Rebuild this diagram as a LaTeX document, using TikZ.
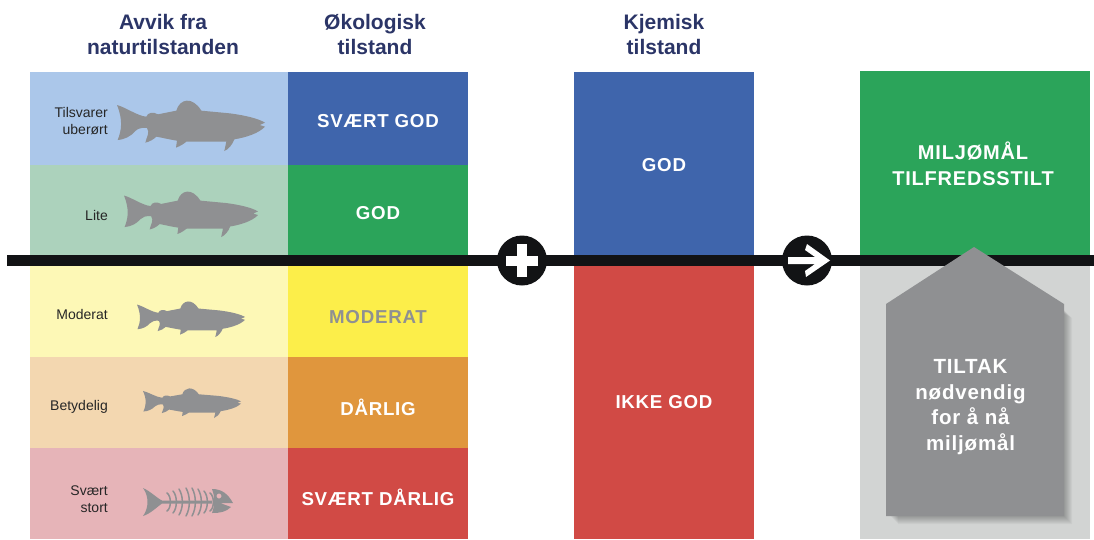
\documentclass[tikz,border=0pt]{standalone}
\usepackage{fontspec}
\setmainfont{Liberation Sans}
\newfontfamily\spc[LetterSpace=4]{Liberation Sans}
\definecolor{navy}{HTML}{2B3567}
\definecolor{cblue}{HTML}{3F65AC}
\definecolor{cgreen}{HTML}{2BA45A}
\definecolor{cyellow}{HTML}{FCEE4A}
\definecolor{corange}{HTML}{E0963D}
\definecolor{cred}{HTML}{D14A45}
\definecolor{lblue}{HTML}{ABC7EA}
\definecolor{lgreen}{HTML}{ACD2BC}
\definecolor{lyellow}{HTML}{FDF8B6}
\definecolor{lorange}{HTML}{F3D7B0}
\definecolor{lred}{HTML}{E6B4B8}
\definecolor{fishgrey}{HTML}{8F9092}
\definecolor{pale}{HTML}{D2D4D3}
\definecolor{ink}{HTML}{121315}
\newcommand{\fishpath}{
  (0,15) .. controls (26,22) and (62,48) .. (88,50)
  .. controls (92,38) and (108,34) .. (123,43)
  -- (178,32) .. controls (188,-4) and (226,-12) .. (253,32)
  -- (338,40) .. controls (385,46) and (425,56) .. (444,68)
  -- (428,75) -- (444,80)
  .. controls (425,100) and (388,112) .. (352,118)
  .. controls (345,135) and (335,148) .. (322,153)
  -- (328,125) -- (208,125) .. controls (200,132) and (190,138) .. (177,143)
  -- (180,122) .. controls (155,118) and (135,113) .. (118,110)
  .. controls (110,118) and (98,125) .. (85,128)
  .. controls (88,112) and (100,98) .. (90,84)
  .. controls (72,82) and (62,86) .. (54,94)
  .. controls (42,108) and (25,118) .. (2,120)
  .. controls (14,90) and (18,60) .. (0,15) -- cycle}
\tikzset{
  title/.style={font=\fontsize{21}{25}\selectfont\bfseries,text=navy,align=center},
  lab/.style={font=\fontsize{14}{17}\selectfont,text=black!85,align=right,anchor=east,inner sep=0pt},
  big/.style={font=\fontsize{18.7}{26}\selectfont\spc\bfseries,text=white,align=center},
  opcircle/.style={circle,fill=ink,minimum size=50pt,inner sep=0pt},
}
\begin{document}
\begin{tikzpicture}[x=1pt,y=-1pt]
\useasboundingbox (0,0) rectangle (1094,539);
% left pale bands
\fill[lblue] (30,72) rectangle (288,165);
\fill[lgreen] (30,165) rectangle (288,256);
\fill[lyellow] (30,266) rectangle (288,357);
\fill[lorange] (30,357) rectangle (288,448);
\fill[lred] (30,448) rectangle (288,539);
% ecological column
\fill[cblue] (288,72) rectangle (468,165);
\fill[cgreen] (288,165) rectangle (468,256);
\fill[cyellow] (288,266) rectangle (468,357);
\fill[corange] (288,357) rectangle (468,448);
\fill[cred] (288,448) rectangle (468,539);
% chemical column
\fill[cblue] (574,72) rectangle (754,256);
\fill[cred] (574,266) rectangle (754,539);
% goal column
\fill[cgreen] (860,71) rectangle (1090,256);
\fill[pale] (860,266) rectangle (1090,539);
% fish
\foreach \fx/\fy/\fw/\fh in {117/100/148/51,124/191/134/46,137/301/108/36,143/388/98/30}{
  \begin{scope}[shift={(\fx,\fy)},xscale=\fw/444,yscale=\fh/153]
    \fill[fishgrey] \fishpath;
  \end{scope}
}
% skeleton
\begin{scope}[fishgrey]
  \fill (143,488) .. controls (150,491) and (157,498) .. (162,500.5) -- (212,500.5) -- (212,503.5) -- (162,503.5)
    .. controls (157,507) and (150,514) .. (143,516) .. controls (149,508) and (149,496) .. (143,488) -- cycle;
  \foreach \rx/\rt/\rb in {167/493/511,173/491/513,179/489/515,186/488/516,192/488/516,198/489/515,204/491/513,210/493/511}{
    \draw[line width=1.5pt,line cap=round] (\rx,\rt) .. controls (\rx+4.5,496) and (\rx+4.5,508) .. (\rx,\rb);
  }
  \fill[even odd rule] (212,489) .. controls (222,489) and (228,494) .. (233,503)
    -- (220,503) -- (231,507) .. controls (226,512) and (220,513) .. (212,513) .. controls (215,505) and (215,497) .. (212,489) -- cycle
    (219,496) circle[radius=2.6];
\end{scope}
% axis line and operators
\coordinate (lineL) at (7,260.5);
\coordinate (lineR) at (1094,260.5);
\draw[ink,line width=10.5pt] (lineL) -- (lineR);
\node[opcircle] (plus) at (522,260.5) {};
\node[opcircle] (arrow) at (807,260.5) {};
\fill[white] (517,244) rectangle (527,277);
\fill[white] (506,255.5) rectangle (538,266);
\fill[white] (788,257) -- (815,257) -- (805,250) -- (807,244) -- (830,260.5) -- (806,277) -- (805,271) -- (815,264) -- (788,264) -- cycle;
% house with soft shadow
\foreach \o in {12,11,...,1}{
  \fill[black,opacity=0.035] (886+\o,306+\o) -- (974,252+\o) -- (1060+\o,306+\o) -- (1060+\o,512+\o) -- (886+\o,512+\o) -- cycle;
}
\fill[fishgrey] (886,304) -- (974,247) -- (1064,304) -- (1064,516) -- (886,516) -- cycle;
\node[big,font=\fontsize{20.5}{25.5}\selectfont\spc\bfseries] (tiltak) at (970.5,407) {TILTAK\\nødvendig\\for å nå\\miljømål};
% titles
\node[title] (t1) at (163,34.5) {Avvik fra\\naturtilstanden};
\node[title] (t2) at (375,34.5) {Økologisk\\tilstand};
\node[title] (t3) at (664,34.5) {Kjemisk\\tilstand};
% side labels
\node[lab] (a) at (108,121.5) {Tilsvarer\\uberørt};
\node[lab] (b) at (108,215) {Lite};
\node[lab] (c) at (108,314) {Moderat};
\node[lab] (d) at (108,407) {Betydelig};
\node[lab] (e) at (108,499.5) {Svært\\stort};
% status labels
\node[big] (s1) at (378,121) {SVÆRT GOD};
\node[big] (s2) at (378,213) {GOD};
\node[big,text=fishgrey] (s3) at (378,317) {MODERAT};
\node[big] (s4) at (378,407) {DÅRLIG};
\node[big] (s5) at (378,497.5) {SVÆRT DÅRLIG};
\node[big] (k1) at (664,165) {GOD};
\node[big] (k2) at (664,402) {IKKE GOD};
\node[big,font=\fontsize{20}{26}\selectfont\spc\bfseries] (m) at (973,164) {MILJØMÅL\\TILFREDSSTILT};
\end{tikzpicture}
\end{document}
